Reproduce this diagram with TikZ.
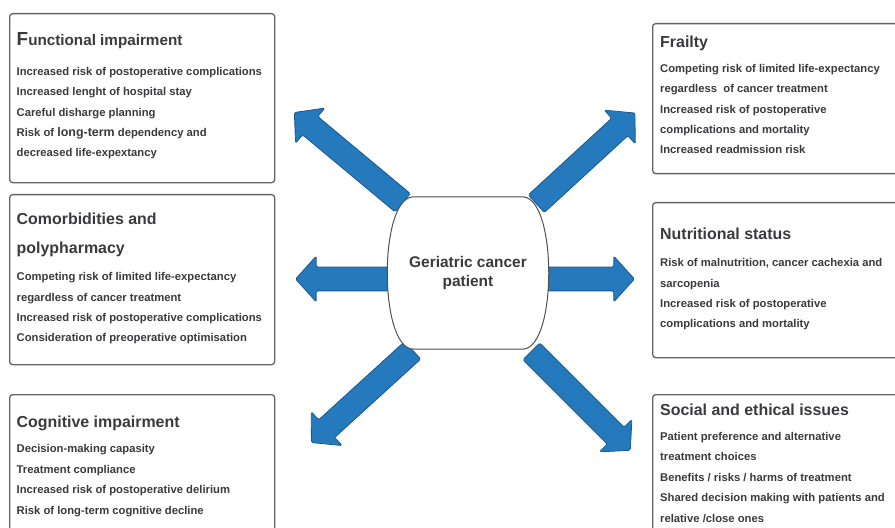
\documentclass[tikz,border=0pt]{standalone}
\usepackage{fontspec}
\setmainfont{Liberation Sans}
\usetikzlibrary{shapes.arrows, calc}

\definecolor{arrowblue}{RGB}{36,122,188}
\definecolor{arrowedge}{RGB}{28,88,140}
\definecolor{textgray}{RGB}{58,58,62}
\definecolor{framegray}{RGB}{100,100,104}

\tikzset{
  panel/.style={draw=framegray, line width=1.3bp, rounded corners=3bp, inner sep=0pt, anchor=north west},
  heading/.style={anchor=base west, inner sep=0pt, text=textgray, font=\fontsize{16}{30}\selectfont\bfseries, align=left},
  items/.style={anchor=base west, inner sep=0pt, text=textgray, font=\fontsize{11.3}{20.5}\selectfont\bfseries, align=left},
  fatarrow/.style={single arrow, draw=arrowedge, fill=arrowblue, line width=0.8bp, inner xsep=0pt, inner ysep=11.5bp,
    single arrow head extend=11bp, single arrow tip angle=96, rounded corners=1.5bp,
    sloped, allow upside down, pos=0, anchor=tail},
  hubline/.style={draw=framegray!80!black, line width=1bp, fill=white},
}

\begin{document}
\begin{tikzpicture}[x=1bp, y=-1bp]
    \useasboundingbox (0,0) rectangle (895,528);
    \clip (0,0) rectangle (895,528);

    % Arrows out of the centre
    \coordinate (hub) at (468,273);
    \coordinate (ulTail) at (403,203);  \coordinate (ulTip) at (295,113);
    \coordinate (urTail) at (536,204);  \coordinate (urTip) at (635,113);
    \coordinate (lTail) at (395,279);   \coordinate (lTip) at (296,279);
    \coordinate (rTail) at (542,279);   \coordinate (rTip) at (634,279);
    \coordinate (llTail) at (413,350);  \coordinate (llTip) at (312,442);
    \coordinate (lrTail) at (531,351);  \coordinate (lrTip) at (630,450);

    \path (ulTail) -- (ulTip) node[fatarrow, minimum height=141bp] (toFunctional) {};
    \path (urTail) -- (urTip) node[fatarrow, minimum height=134bp] (toFrailty) {};
    \path (lTail) -- (lTip) node[fatarrow, minimum height=99bp] (toComorbid) {};
    \path (rTail) -- (rTip) node[fatarrow, minimum height=92bp] (toNutrition) {};
    \path (llTail) -- (llTip) node[fatarrow, minimum height=137bp] (toCognitive) {};
    \path (lrTail) -- (lrTip) node[fatarrow, minimum height=140bp] (toSocial) {};

    % Centre
    \draw[hubline] ($(hub)+(-56,-76)$) -- ($(hub)+(56,-76)$)
        .. controls ($(hub)+(89,-72)$) and ($(hub)+(89,72)$) .. ($(hub)+(56,76)$)
        -- ($(hub)+(-56,76)$)
        .. controls ($(hub)+(-89,72)$) and ($(hub)+(-89,-72)$) .. ($(hub)+(-56,-76)$) -- cycle;
    \node[text=textgray, font=\fontsize{15.5}{20}\selectfont\bfseries, align=center] (patient) at (hub) {Geriatric cancer\\patient};

    % Left column (text nodes sit on their last baseline)
    \node[panel, minimum width=265bp, minimum height=169bp] (functional) at (9,13) {};
    \node[heading, font=\fontsize{15.3}{30}\selectfont\bfseries] (functionalTitle) at (16.5,46) {{\fontsize{19}{30}\selectfont F}unctional impairment};
    \node[items] (functionalText) at (16.5,157) {Increased risk of postoperative complications\\
        Increased lenght of hospital stay\\Careful disharge planning\\
        Risk of {\fontsize{12.5}{20.5}\selectfont long-term} dependency and\\decreased life-expextancy};

    \node[panel, minimum width=265bp, minimum height=170bp] (comorbid) at (9,194) {};
    \node[heading] (comorbidTitle) at (16.5,254) {Comorbidities and\\polypharmacy};
    \node[items] (comorbidText) at (16.5,342) {Competing risk of limited life-expectancy\\
        regardless of cancer treatment\\Increased risk of postoperative complications\\
        Consideration of preoperative optimisation};

    \node[panel, minimum width=265bp, minimum height=150bp] (cognitive) at (9,394) {};
    \node[heading] (cognitiveTitle) at (16.5,427) {Cognitive impairment};
    \node[items] (cognitiveText) at (16.5,514) {Decision-making capasity\\Treatment compliance\\
        Increased risk of postoperative delirium\\Risk of long-term cognitive decline};

    % Right column
    \node[panel, minimum width=255bp, minimum height=150bp] (frailty) at (652,23) {};
    \node[heading] (frailtyTitle) at (660,48) {Frailty};
    \node[items] (frailtyText) at (660,154) {Competing risk of limited life-expectancy\\
        regardless \ of cancer treatment\\Increased risk of postoperative\\
        complications and mortality\\Increased readmission risk};

    \node[panel, minimum width=255bp, minimum height=155bp] (nutrition) at (652,202) {};
    \node[heading] (nutritionTitle) at (660,240) {Nutritional status};
    \node[items] (nutritionText) at (660,328) {Risk of malnutrition, cancer cachexia and\\
        sarcopenia\\Increased risk of postoperative\\complications and mortality};

    \node[panel, minimum width=255bp, minimum height=150bp] (social) at (652,394) {};
    \node[heading] (socialTitle) at (660,415) {Social and ethical issues};
    \node[items] (socialText) at (660,522) {Patient preference and alternative\\
        treatment choices\\Benefits / risks / harms of treatment\\
        Shared decision making with patients and\\relative /close ones};
\end{tikzpicture}
\end{document}
